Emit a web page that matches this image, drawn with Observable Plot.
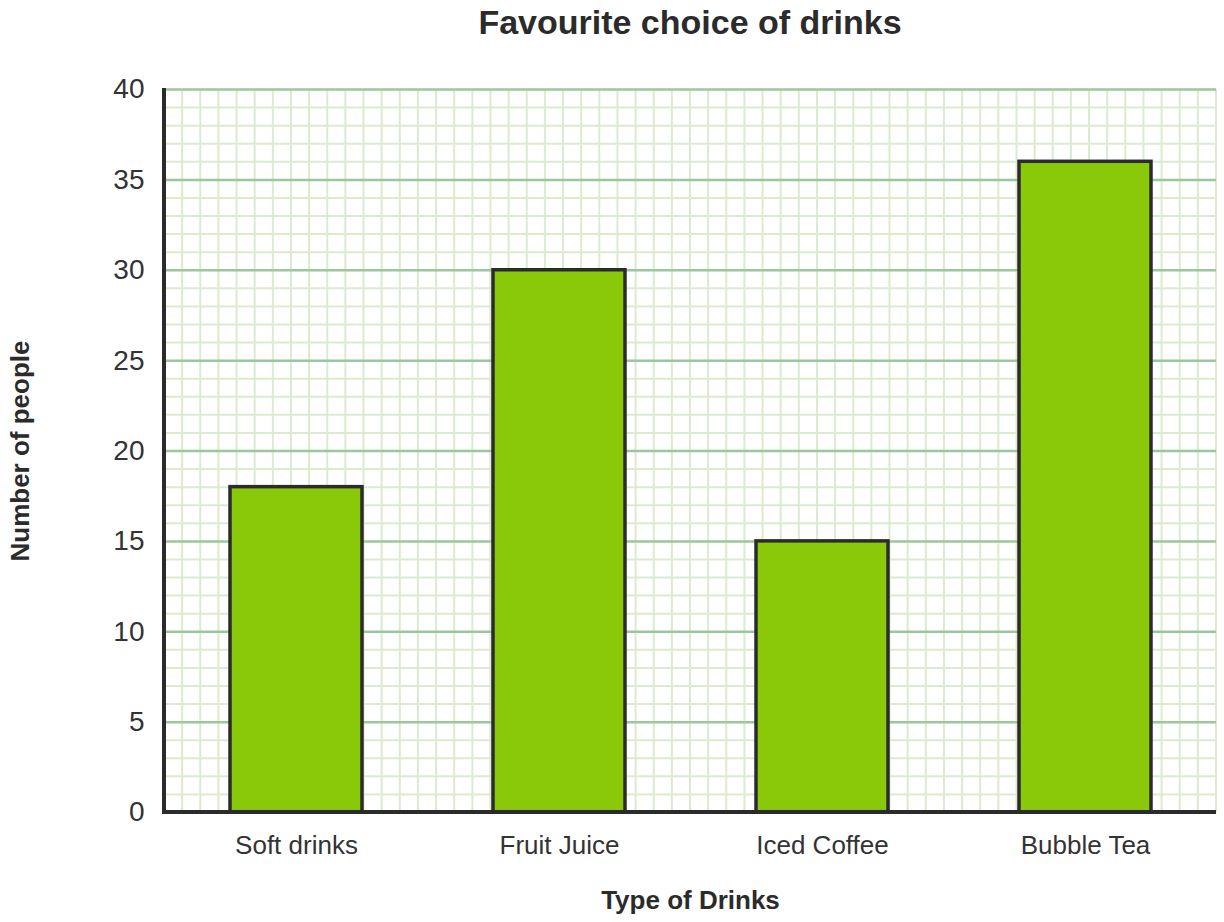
<!DOCTYPE html>
<html>
<head>
<meta charset="utf-8">
<script src="https://cdn.jsdelivr.net/npm/d3@7"></script>
<script src="https://cdn.jsdelivr.net/npm/@observablehq/plot@0.6"></script>
<style>
  html, body { margin: 0; padding: 0; background: #fff; }
  body { font-family: "Liberation Sans", Arial, sans-serif; width: 1224px; height: 922px; overflow: hidden; }
  #title { height: 44px; line-height: 44px; margin-left: 164px; width: 1052px; text-align: center;
           font-weight: bold; font-size: 34px; color: #2b2b2b; }
</style>
</head>
<body>
<div id="title">Favourite choice of drinks</div>
<div id="chart"></div>
<script>
const drinks = ["Soft drinks", "Fruit Juice", "Iced Coffee", "Bubble Tea"];
const counts = [18, 30, 15, 36];
const yTicks = [0, 5, 10, 15, 20, 25, 30, 35, 40];
const minorTicks = d3.range(0, 41);
const xLabel = "Type of Drinks";
const yLabel = "Number of people";

const data = drinks.map((d, i) => ({drink: d, count: counts[i]}));

const ink = "#2b2b2b";

// minor vertical grid drawn from the y scale's unit
function paperGrid(index, scales, values, dims) {
  const {width, marginLeft, marginRight} = dims;
  const y = scales.y;
  const unit = Math.abs(y(0) - y(1));
  const w = width - marginLeft - marginRight;
  const n = Math.round(w / unit);
  const step = w / n;
  const g = d3.create("svg:g");
  for (let i = 1; i <= n; i++) {
    const x = marginLeft + i * step;
    g.append("line").attr("x1", x).attr("x2", x).attr("y1", y(40)).attr("y2", y(0))
      .attr("stroke", "#dcebd0").attr("stroke-width", 2);
  }
  return g.node();
}
function axisLines(index, scales, values, dims) {
  const {width, marginLeft, marginRight} = dims;
  const y = scales.y;
  const g = d3.create("svg:g");
  g.append("line").attr("x1", marginLeft).attr("x2", marginLeft).attr("y1", y(40) - 1).attr("y2", y(0) + 2)
    .attr("stroke", ink).attr("stroke-width", 4);
  g.append("line").attr("x1", marginLeft - 2).attr("x2", width - marginRight).attr("y1", y(0)).attr("y2", y(0))
    .attr("stroke", ink).attr("stroke-width", 4);
  return g.node();
}

const chart = Plot.plot({
  width: 1224,
  height: 878,
  marginTop: 45,
  marginBottom: 110,
  marginLeft: 164,
  marginRight: 8,
  style: {fontFamily: "'Liberation Sans', Arial, sans-serif", color: "#333", background: "#fff"},
  x: {domain: drinks, paddingInner: 0.5, paddingOuter: 0.25},
  y: {domain: [0, 40]},
  marks: [
    paperGrid,
    Plot.ruleY(minorTicks.filter(t => t % 5 !== 0), {stroke: "#dcebd0", strokeWidth: 2}),
    Plot.ruleY(yTicks, {stroke: "#9cc69c", strokeWidth: 2.5}),
    Plot.barY(data, {x: "drink", y: "count", fill: "#8ac80a", stroke: ink, strokeWidth: 3.5}),
    axisLines,
    Plot.axisY({ticks: yTicks, tickSize: 0, tickPadding: 20, fontSize: 28, label: null}),
    Plot.axisX({tickSize: 0, tickPadding: 23, fontSize: 26, label: null}),
    Plot.text([yLabel], {frameAnchor: "left", dx: -144, rotate: -90, textAnchor: "middle", lineAnchor: "middle",
      fontSize: 26, fontWeight: "bold", fill: ink}),
    Plot.text([xLabel], {frameAnchor: "bottom", dy: 88, textAnchor: "middle", lineAnchor: "middle",
      fontSize: 26, fontWeight: "bold", fill: ink})
  ]
});
document.getElementById("chart").appendChild(chart);
</script>
</body>
</html>
